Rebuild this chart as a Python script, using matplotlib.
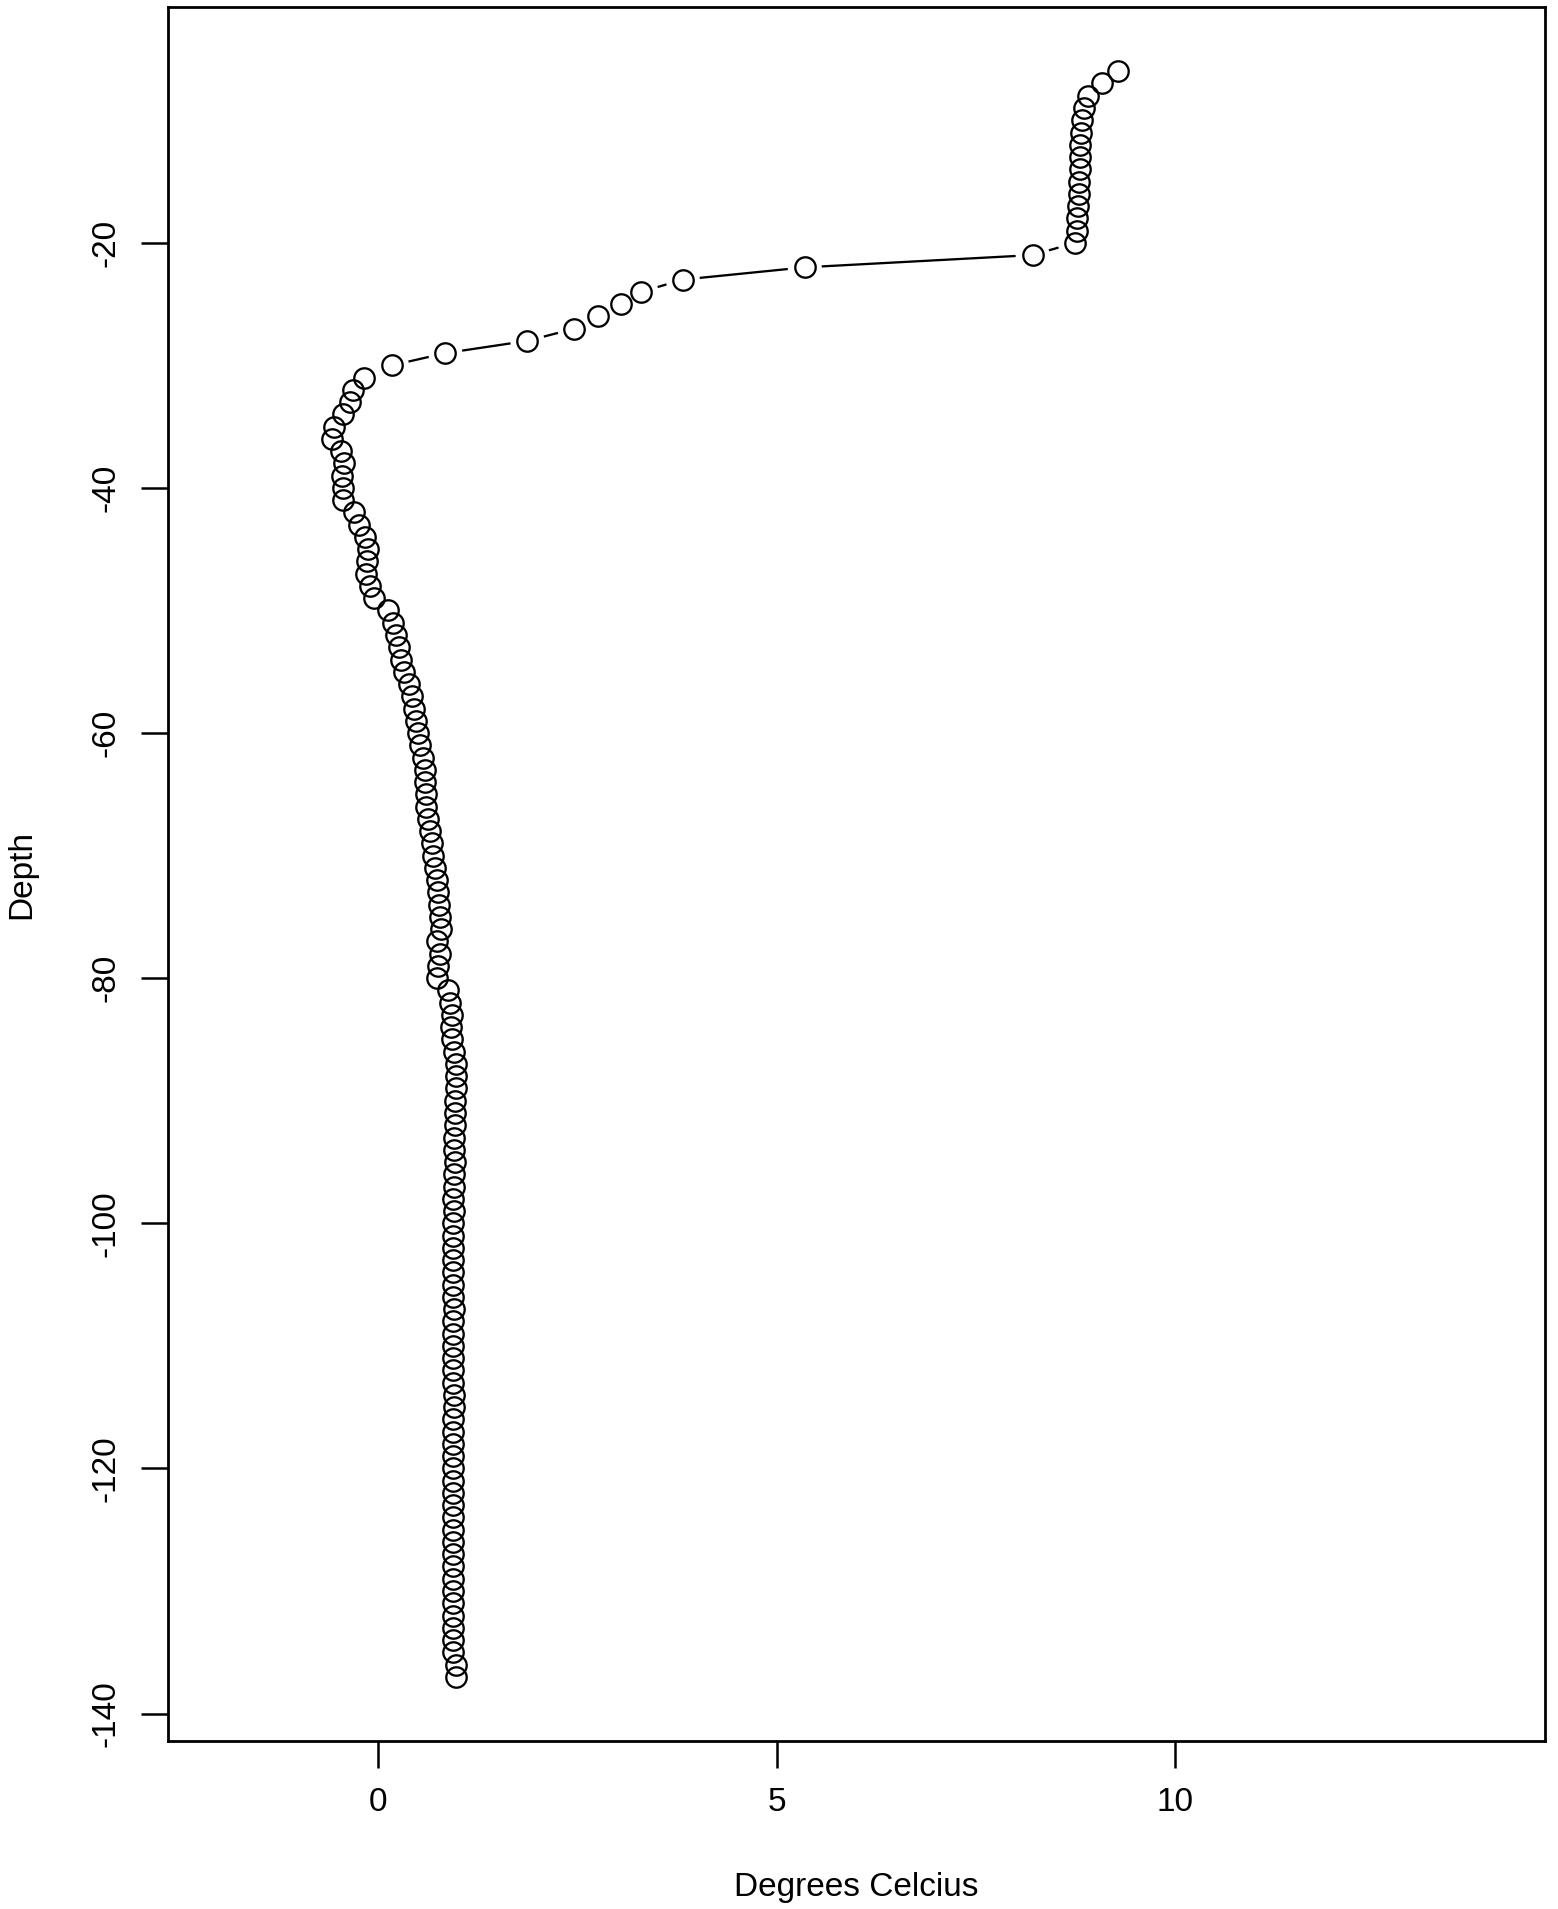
import numpy as np
import matplotlib
matplotlib.use('Agg')
import matplotlib.pyplot as plt

# depth (m) and temperature (deg C) profile, one reading per metre
depth = np.arange(-6, -138, -1)
temp = [9.28, 9.08, 8.90, 8.85, 8.83, 8.82, 8.81, 8.80, 8.80, 8.79,
        8.79, 8.78, 8.77, 8.77, 8.74, 8.21, 5.35, 3.82, 3.30, 3.04,
        2.75, 2.46, 1.87, 0.84, 0.17, -0.18, -0.32, -0.36, -0.44, -0.56,
        -0.58, -0.47, -0.43, -0.46, -0.44, -0.45, -0.31, -0.24, -0.17, -0.13,
        -0.14, -0.16, -0.11, -0.06, 0.12, 0.18, 0.22, 0.26, 0.29, 0.32,
        0.39, 0.42, 0.45, 0.47, 0.50, 0.52, 0.56, 0.58, 0.59, 0.60,
        0.60, 0.62, 0.65, 0.67, 0.69, 0.71, 0.73, 0.75, 0.76, 0.77,
        0.78, 0.74, 0.77, 0.75, 0.73, 0.87, 0.90, 0.92, 0.91, 0.93,
        0.95, 0.97, 0.97, 0.97, 0.96, 0.96, 0.96, 0.95, 0.95, 0.96,
        0.95, 0.95, 0.94, 0.95, 0.94, 0.94, 0.94, 0.94, 0.94, 0.94,
        0.94, 0.95, 0.94, 0.94, 0.94, 0.94, 0.94, 0.94, 0.95, 0.95,
        0.94, 0.94, 0.94, 0.94, 0.94, 0.94, 0.94, 0.94, 0.94, 0.94,
        0.94, 0.94, 0.94, 0.94, 0.94, 0.94, 0.94, 0.94, 0.94, 0.94,
        0.97, 0.97]

xticks = [0, 5, 10]
yticks = [-20, -40, -60, -80, -100, -120, -140]

plt.rcParams['font.family'] = ['Liberation Sans', 'DejaVu Sans']

fig = plt.figure(figsize=(15.58, 19.09), dpi=100)
ax = fig.add_axes([0.10783, 0.08800, 0.88383, 0.90833])

# R style limits: xlim=c(-2,14), data range on y, both padded by 4%
ax.set_xlim(-2.64, 14.64)
ax.set_ylim(-142.24, -0.76)

# connecting lines with gaps round each point (like type="b")
gap = 17.0
pts = ax.transData.transform(np.column_stack([temp, depth]))
inv = ax.transData.inverted()
for p1, p2 in zip(pts[:-1], pts[1:]):
    d = p2 - p1
    dist = np.hypot(d[0], d[1])
    if dist <= 2 * gap:
        continue
    u = d / dist
    seg = inv.transform(np.array([p1 + gap * u, p2 - gap * u]))
    ax.plot(seg[:, 0], seg[:, 1], color='black', lw=1.65,
            solid_capstyle='butt')

# open circles
ax.plot(temp, depth, linestyle='none', marker='o', markersize=14.7,
        markerfacecolor='none', markeredgecolor='black', markeredgewidth=1.65)

# axes and labels
ax.set_xticks(xticks)
ax.set_xticklabels([str(t) for t in xticks])
ax.set_yticks(yticks)
ax.set_yticklabels([str(t) for t in yticks], rotation=90, va='center')
ax.tick_params(direction='out', length=19.4, width=1.8, labelsize=24, pad=14)
for s in ax.spines.values():
    s.set_linewidth(2.0)

ax.set_xlabel('Degrees Celcius', fontsize=24, va='center')
ax.set_ylabel('Depth', fontsize=24, va='center')
ax.xaxis.set_label_coords(0.5, -0.0842)
ax.yaxis.set_label_coords(-0.106, 0.5)

fig.savefig('out.png', dpi=100)
